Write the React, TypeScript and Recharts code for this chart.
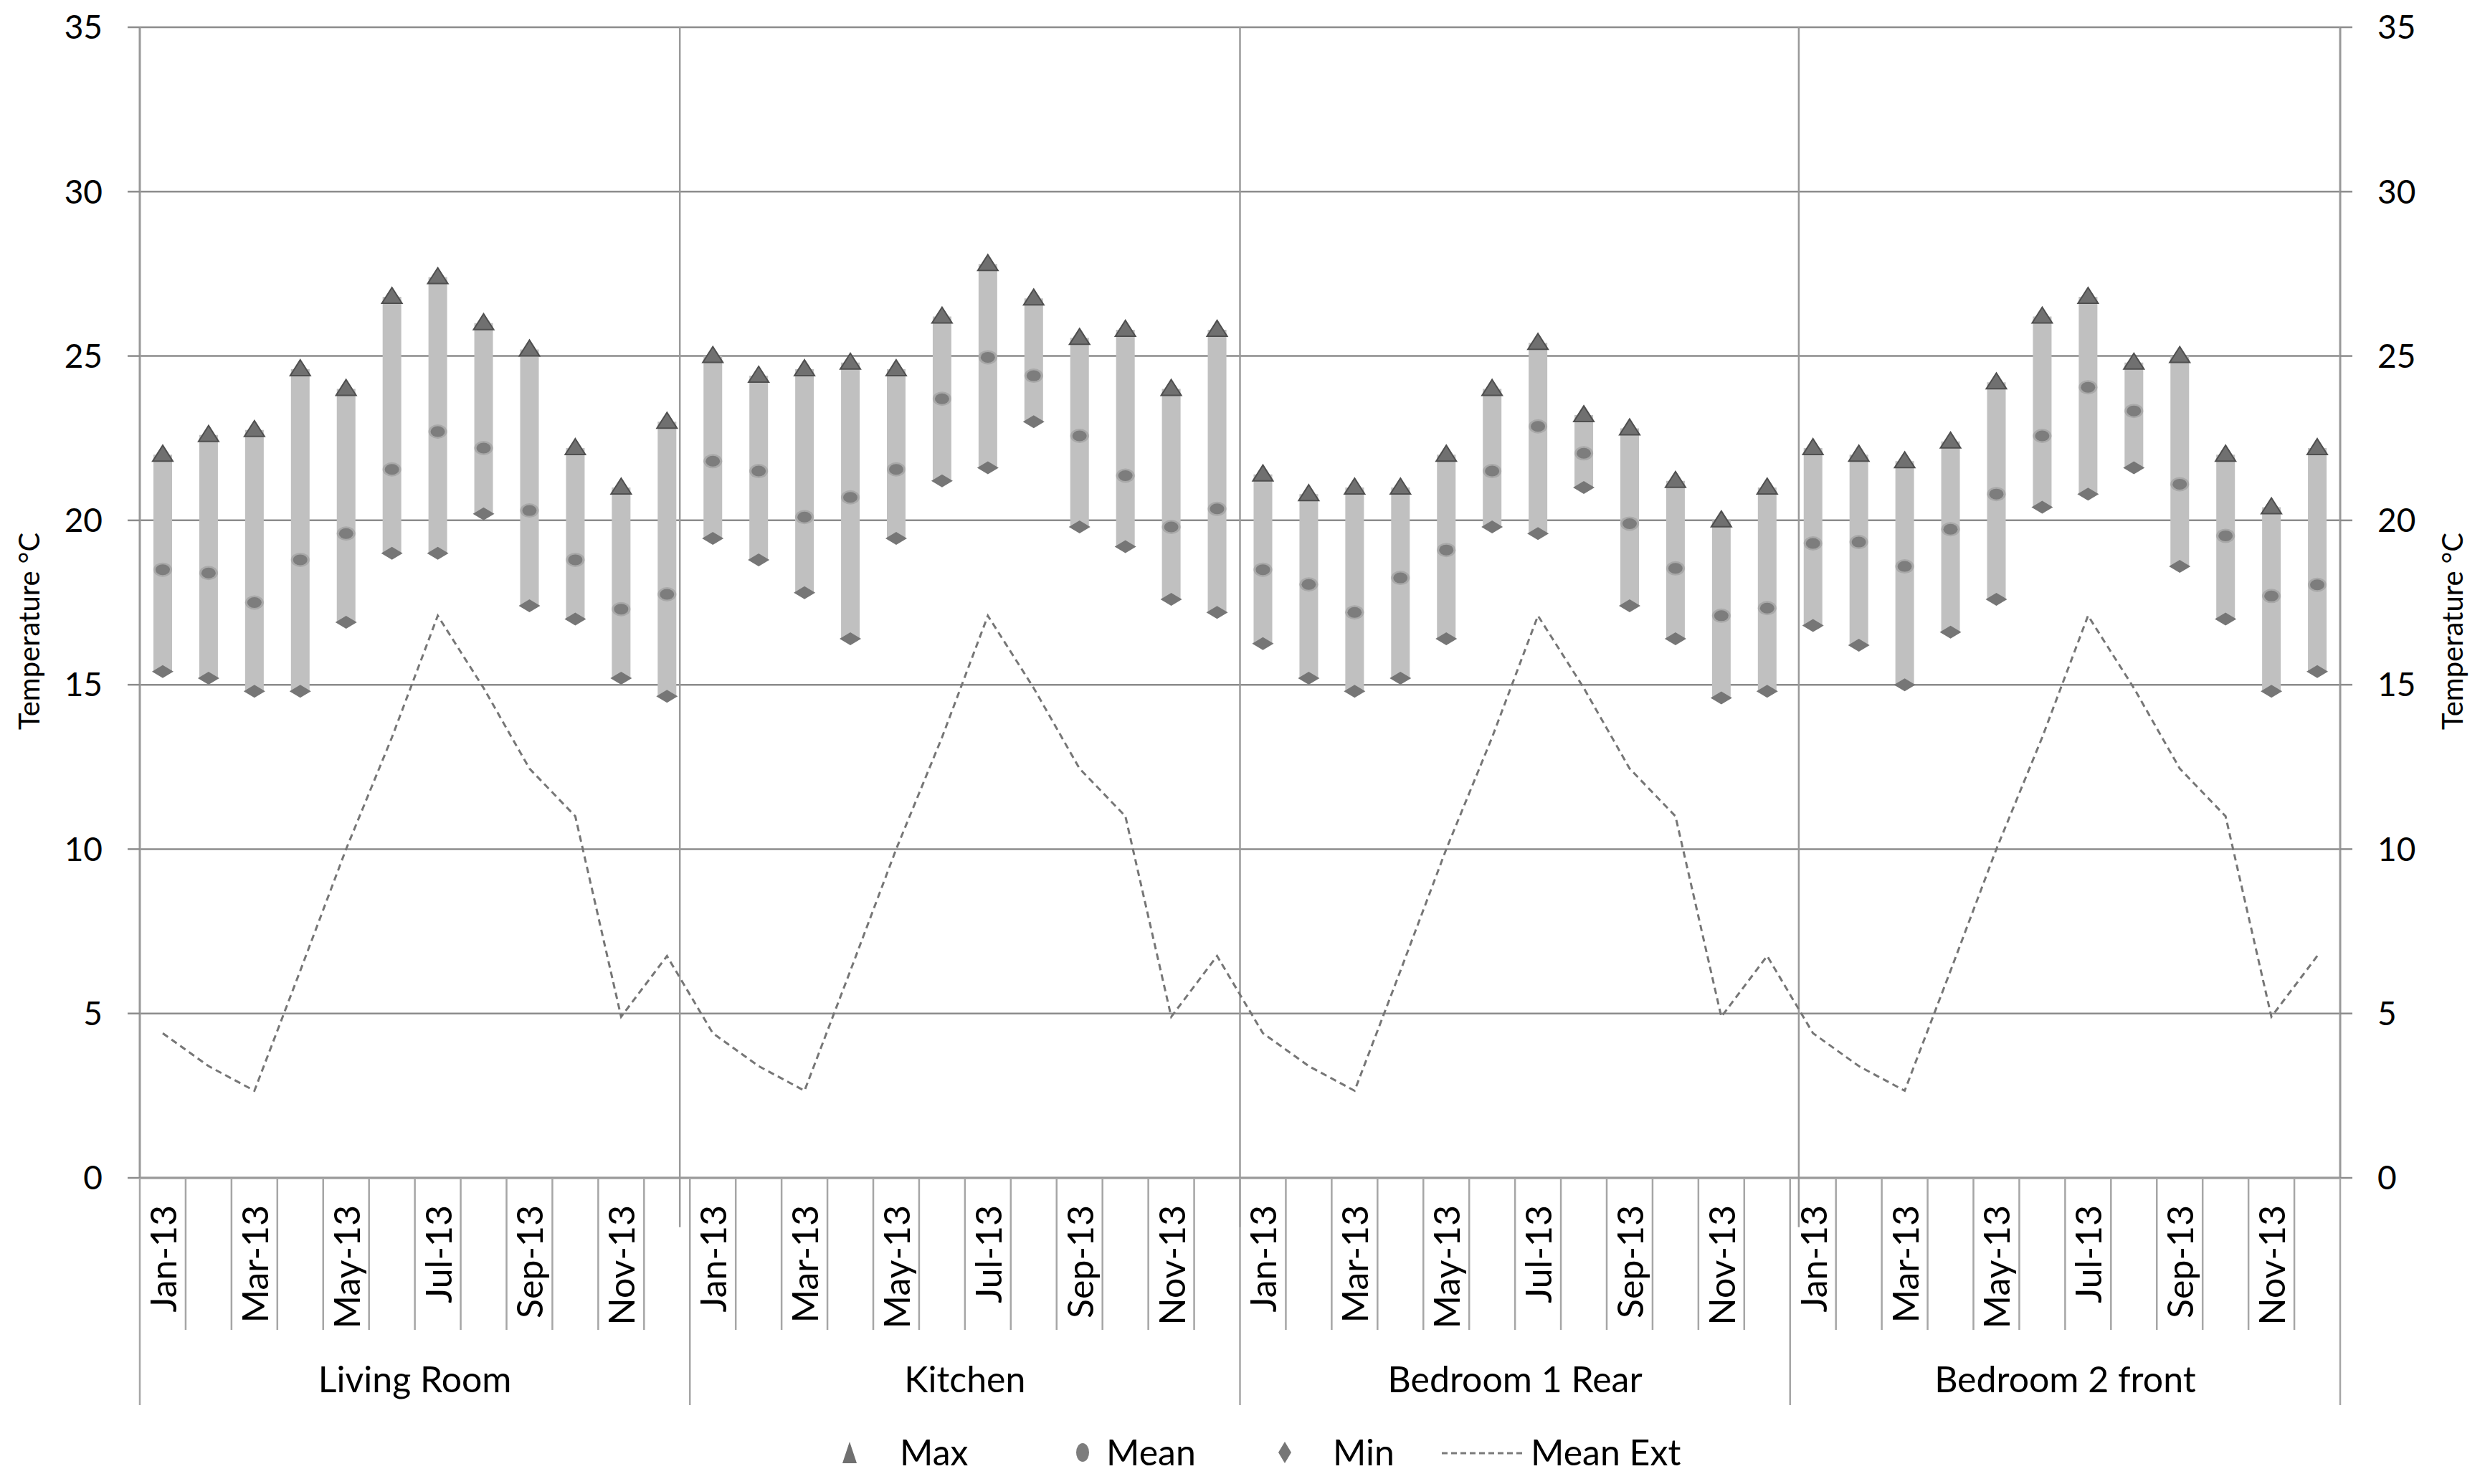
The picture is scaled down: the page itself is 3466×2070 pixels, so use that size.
import React from 'react';
import {
  ComposedChart,
  Bar,
  Line,
  XAxis,
  YAxis,
  CartesianGrid,
  Legend,
  ReferenceLine,
} from 'recharts';

const months = ['Jan-13', 'Feb-13', 'Mar-13', 'Apr-13', 'May-13', 'Jun-13', 'Jul-13', 'Aug-13', 'Sep-13', 'Oct-13', 'Nov-13', 'Dec-13'];
const rooms = ['Living Room', 'Kitchen', 'Bedroom 1 Rear', 'Bedroom 2 front'];

const livingMax = [22.0, 22.6, 22.75, 24.6, 24.0, 26.8, 27.4, 26.0, 25.2, 22.2, 21.0, 23.0];
const livingMean = [18.5, 18.4, 17.5, 18.8, 19.6, 21.55, 22.7, 22.2, 20.3, 18.8, 17.3, 17.75];
const livingMin = [15.4, 15.2, 14.8, 14.8, 16.9, 19.0, 19.0, 20.2, 17.4, 17.0, 15.2, 14.65];

const kitchenMax = [25.0, 24.4, 24.6, 24.8, 24.6, 26.2, 27.8, 26.75, 25.55, 25.8, 24.0, 25.8];
const kitchenMean = [21.8, 21.5, 20.1, 20.7, 21.55, 23.7, 24.96, 24.4, 22.57, 21.36, 19.8, 20.35];
const kitchenMin = [19.45, 18.8, 17.8, 16.4, 19.45, 21.2, 21.6, 23.0, 19.8, 19.2, 17.6, 17.2];

const bed1Max = [21.4, 20.8, 21.0, 21.0, 22.0, 24.0, 25.4, 23.2, 22.8, 21.2, 20.0, 21.0];
const bed1Mean = [18.5, 18.05, 17.2, 18.25, 19.1, 21.5, 22.86, 22.04, 19.9, 18.54, 17.1, 17.33];
const bed1Min = [16.25, 15.2, 14.8, 15.2, 16.4, 19.8, 19.6, 21.0, 17.4, 16.4, 14.6, 14.8];

const bed2Max = [22.2, 22.0, 21.8, 22.4, 24.2, 26.2, 26.8, 24.8, 25.0, 22.0, 20.4, 22.2];
const bed2Mean = [19.3, 19.34, 18.6, 19.73, 20.8, 22.57, 24.05, 23.33, 21.1, 19.53, 17.7, 18.04];
const bed2Min = [16.8, 16.2, 15.0, 16.6, 17.6, 20.4, 20.8, 21.6, 18.6, 17.0, 14.8, 15.4];

const meanExt = [4.4, 3.4, 2.65, 6.3, 10.0, 13.4, 17.1, 14.9, 12.45, 11.0, 4.9, 6.75];

const yTicks = [0, 5, 10, 15, 20, 25, 30, 35];
const separators = [11.78, 24, 36.19];

const roomMax = [livingMax, kitchenMax, bed1Max, bed2Max];
const roomMean = [livingMean, kitchenMean, bed1Mean, bed2Mean];
const roomMin = [livingMin, kitchenMin, bed1Min, bed2Min];

const data = rooms.flatMap((room, r) =>
  months.map((m, i) => ({
    id: `${r}-${m}`,
    month: m,
    room,
    pos: r * 12 + i + 0.5,
    max: roomMax[r][i],
    mean: roomMean[r][i],
    min: roomMin[r][i],
    range: [roomMin[r][i], roomMax[r][i]],
    ext: meanExt[i],
  }))
);

const FONT = 'Lato, "Open Sans", sans-serif';
const W = 3450;
const H = 2054;
const PLOT_LEFT = 187;
const PLOT_TOP = 30;
const PLOT_W = 3069;
const PLOT_H = 1605;
const AXIS_Y = PLOT_TOP + PLOT_H;
const BAND = PLOT_W / data.length;
const LINE_GRAY = '#a6a6a6';

const CategoryTick = (props: any) => {
  const { x, index, payload } = props;
  const row = data[index];
  const left = x - BAND / 2;
  const groupStart = index % 12 === 0;
  return (
    <g>
      <line x1={left} x2={left} y1={AXIS_Y} y2={AXIS_Y + (groupStart ? 317 : 212)} stroke={LINE_GRAY} strokeWidth={2.5} />
      {index === data.length - 1 && (
        <line x1={x + BAND / 2} x2={x + BAND / 2} y1={AXIS_Y} y2={AXIS_Y + 317} stroke={LINE_GRAY} strokeWidth={2.5} />
      )}
      {index % 2 === 0 && (
        <text
          x={x}
          y={AXIS_Y + 38}
          transform={`rotate(-90 ${x} ${AXIS_Y + 38})`}
          textAnchor="end"
          dominantBaseline="central"
          fontFamily={FONT}
          fontSize={50}
          fill="#000"
        >
          {payload.value}
        </text>
      )}
      {index % 12 === 6 && (
        <text x={left} y={AXIS_Y + 280} textAnchor="middle" dominantBaseline="central" fontFamily={FONT} fontSize={50} fill="#000">
          {row.room}
        </text>
      )}
    </g>
  );
};

const Triangle = (props: any) => {
  const { cx, cy, key } = props;
  if (cx == null || cy == null) return <g key={key} />;
  return <polygon key={key} points={`${cx},${cy - 13} ${cx + 14},${cy + 9} ${cx - 14},${cy + 9}`} fill="#707070" stroke="#4f4f4f" strokeWidth={2} />;
};

const Circle = (props: any) => {
  const { cx, cy, key } = props;
  if (cx == null || cy == null) return <g key={key} />;
  return (
    <g key={key}>
      <ellipse cx={cx} cy={cy} rx={13} ry={10} fill="#a9a9a9" />
      <ellipse cx={cx} cy={cy} rx={10} ry={7.5} fill="#7d7d7d" />
    </g>
  );
};

const Diamond = (props: any) => {
  const { cx, cy, key } = props;
  if (cx == null || cy == null) return <g key={key} />;
  return <polygon key={key} points={`${cx},${cy - 9} ${cx + 15},${cy} ${cx},${cy + 9} ${cx - 15},${cy}`} fill="#767676" />;
};

const itemStyle = (left: number): React.CSSProperties => ({
  position: 'absolute',
  left,
  top: 30,
  height: 44,
  lineHeight: '44px',
  whiteSpace: 'nowrap',
});

const LegendContent = () => (
  <div style={{ position: 'relative', width: W, height: 89, fontFamily: FONT, fontSize: 50, color: '#000' }}>
    <svg style={itemStyle(1157)} width={40} height={44}>
      <polygon points="20,8 30,38 10,38" fill="#707070" />
    </svg>
    <span style={itemStyle(1247)}>Max</span>
    <svg style={itemStyle(1482)} width={40} height={44}>
      <ellipse cx={20} cy={23} rx={9} ry={13} fill="#7d7d7d" />
    </svg>
    <span style={itemStyle(1535)}>Mean</span>
    <svg style={itemStyle(1764)} width={40} height={44}>
      <polygon points="20,8 29,23 20,38 11,23" fill="#767676" />
    </svg>
    <span style={itemStyle(1851)}>Min</span>
    <svg style={itemStyle(2003)} width={116} height={44}>
      <line x1={0} x2={116} y1={24} y2={24} stroke="#7a7a7a" strokeWidth={3} strokeDasharray="8 5" />
    </svg>
    <span style={itemStyle(2127)}>Mean Ext</span>
  </div>
);

const AxisTitle = ({ x }: { x: number }) => (
  <text
    x={x}
    y={PLOT_TOP + PLOT_H / 2 + 40}
    transform={`rotate(-90 ${x} ${PLOT_TOP + PLOT_H / 2 + 40})`}
    textAnchor="middle"
    dominantBaseline="central"
    fontFamily={FONT}
    fontSize={40}
    fill="#000"
  >
    Temperature °C
  </text>
);

export default function App() {
  return (
    <div style={{ width: W, height: H, background: '#fff' }}>
      <ComposedChart width={W} height={H} data={data} margin={{ top: PLOT_TOP, right: 0, bottom: 0, left: 0 }} barGap={0}>
        <CartesianGrid vertical={false} stroke="#8c8c8c" strokeWidth={2.5} yAxisId="left" />
        <XAxis
          dataKey="month"
          xAxisId="cat"
          type="category"
          allowDuplicatedCategory
          interval={0}
          height={330}
          tickLine={false}
          tickSize={0}
          axisLine={{ stroke: '#999', strokeWidth: 3 }}
          tick={<CategoryTick />}
        />
        <XAxis dataKey="pos" xAxisId="num" type="number" domain={[0, 48]} allowDataOverflow hide />
        <YAxis
          yAxisId="left"
          orientation="left"
          width={PLOT_LEFT}
          domain={[0, 35]}
          ticks={yTicks}
          interval={0}
          tickSize={17}
          tickMargin={35}
          tickLine={{ stroke: '#8c8c8c', strokeWidth: 2.5 }}
          axisLine={{ stroke: '#999', strokeWidth: 3 }}
          tick={{ fontFamily: FONT, fontSize: 46, fill: '#000' }}
          label={{ content: () => <AxisTitle x={32} /> }}
        />
        <YAxis
          yAxisId="right"
          orientation="right"
          width={W - PLOT_LEFT - PLOT_W}
          domain={[0, 35]}
          ticks={yTicks}
          interval={0}
          tickSize={17}
          tickMargin={35}
          tickLine={{ stroke: '#8c8c8c', strokeWidth: 2.5 }}
          axisLine={{ stroke: '#999', strokeWidth: 3 }}
          tick={{ fontFamily: FONT, fontSize: 46, fill: '#000' }}
          label={{ content: () => <AxisTitle x={3412} /> }}
        />
        {separators.map((s) => (
          <ReferenceLine
            key={s}
            xAxisId="num"
            yAxisId="left"
            ifOverflow="visible"
            segment={[
              { x: s, y: 35 },
              { x: s, y: -1.5 },
            ]}
            stroke="#9a9a9a"
            strokeWidth={2.5}
          />
        ))}
        <Bar
          dataKey="range"
          xAxisId="cat"
          yAxisId="left"
          barSize={26}
          fill="#c0c0c0"
          isAnimationActive={false}
          legendType="none"
        />
        <Line
          dataKey="ext"
          xAxisId="cat"
          yAxisId="right"
          stroke="#767676"
          strokeWidth={3}
          strokeDasharray="9 6"
          dot={false}
          activeDot={false}
          isAnimationActive={false}
          name="Mean Ext"
        />
        <Line dataKey="max" xAxisId="cat" yAxisId="left" stroke="none" dot={<Triangle />} activeDot={false} isAnimationActive={false} name="Max" />
        <Line dataKey="mean" xAxisId="cat" yAxisId="left" stroke="none" dot={<Circle />} activeDot={false} isAnimationActive={false} name="Mean" />
        <Line dataKey="min" xAxisId="cat" yAxisId="left" stroke="none" dot={<Diamond />} activeDot={false} isAnimationActive={false} name="Min" />
        <Legend verticalAlign="bottom" height={89} content={<LegendContent />} />
      </ComposedChart>
    </div>
  );
}
